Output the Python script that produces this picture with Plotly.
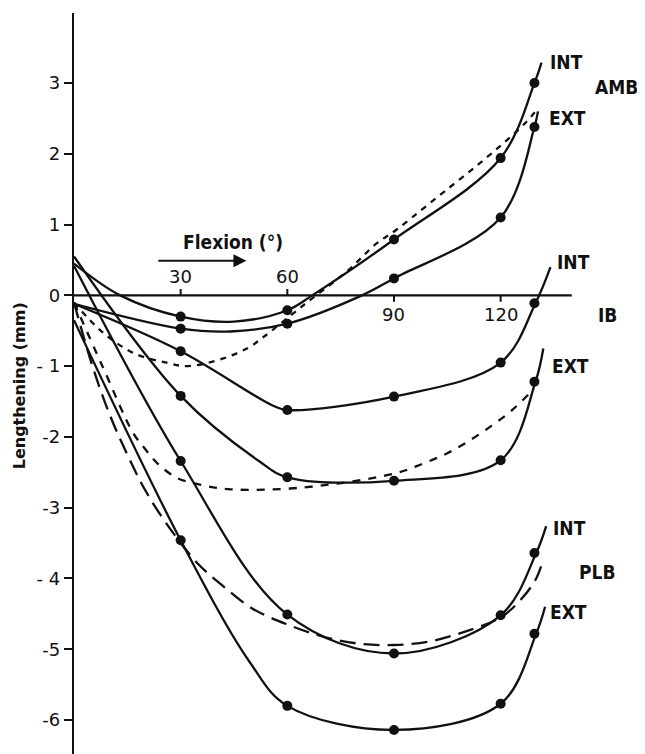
import plotly.graph_objects as go

# ---------------- data ----------------
flexion_dots = [30, 60, 90, 120, 129.5]

amb_int_dots = [-0.30, -0.21, 0.79, 1.94, 3.00]
amb_ext_dots = [-0.47, -0.40, 0.24, 1.10, 2.38]
ib_int_dots = [-0.79, -1.62, -1.43, -0.95, -0.11]
ib_ext_dots = [-1.42, -2.57, -2.62, -2.33, -1.22]
plb_int_dots = [-2.34, -4.51, -5.06, -4.52, -3.64]
plb_ext_dots = [-3.46, -5.80, -6.14, -5.77, -4.78]

# solid curves (points along the drawn curve, incl. free ends)
amb_int_x = [0, 13, 30, 45, 60, 67, 90, 120, 129.5, 131.5]
amb_int_y = [0.45, 0.0, -0.30, -0.37, -0.21, 0.0, 0.79, 1.94, 3.00, 3.29]
amb_ext_x = [0, 30, 44, 60, 81, 90, 120, 129.5, 130.5]
amb_ext_y = [-0.12, -0.47, -0.51, -0.40, 0.0, 0.24, 1.10, 2.38, 2.60]
ib_int_x = [0, 30, 56, 60, 90, 120, 129.8, 134]
ib_int_y = [-0.12, -0.79, -1.56, -1.62, -1.43, -0.95, -0.11, 0.40]
ib_ext_x = [0, 30, 52, 60, 90, 120, 129.8, 132]
ib_ext_y = [0.55, -1.42, -2.34, -2.57, -2.62, -2.33, -1.22, -0.75]
plb_int_x = [0, 30, 60, 90, 120, 130, 132.8]
plb_int_y = [0.42, -2.34, -4.51, -5.06, -4.52, -3.64, -3.26]
plb_ext_x = [0, 30, 49.4, 60, 90, 120, 130, 132.5]
plb_ext_y = [-0.35, -3.46, -5.18, -5.80, -6.14, -5.77, -4.78, -4.40]

# dashed curves
amb_dash_x = [0, 8, 17, 26, 32, 42, 49, 53, 65, 77, 85, 90.5, 100, 118, 127, 130.6]
amb_dash_y = [-0.10, -0.52, -0.82, -0.95, -1.00, -0.89, -0.74, -0.60, -0.12, 0.35, 0.73, 0.92, 1.30, 2.03, 2.44, 2.65]
ib_dash_x = [0, 8, 16.6, 20, 23.6, 29, 36, 44, 63, 90, 98, 105, 111, 117.5, 123, 128.4]
ib_dash_y = [-0.10, -1.00, -1.94, -2.17, -2.38, -2.58, -2.68, -2.74, -2.72, -2.52, -2.38, -2.23, -2.06, -1.84, -1.63, -1.37]
plb_dash_x = [0, 5, 10, 15, 20, 26.5, 35, 42, 50, 60, 70, 80, 90, 100, 110, 120, 126, 130, 132]
plb_dash_y = [-0.10, -0.97, -1.68, -2.25, -2.75, -3.26, -3.80, -4.11, -4.42, -4.65, -4.82, -4.92, -4.94, -4.89, -4.75, -4.55, -4.28, -4.00, -3.73]

y_ticks = [3, 2, 1, 0, -1, -2, -3, -4, -5, -6]
y_tick_text = ["3", "2", "1", "0", "- 1", "-2", "-3", "- 4", "-5", "-6"]
x_ticks_above = [30, 60]
x_ticks_below = [90, 120]
x_axis_end = 140

curve_labels = [
    ("INT", 133.4, 3.30), ("AMB", 146.0, 2.95), ("EXT", 132.9, 2.51),
    ("INT", 135.4, 0.47), ("IB", 146.9, -0.27), ("EXT", 134.0, -1.00),
    ("INT", 134.3, -3.28), ("PLB", 141.4, -3.91), ("EXT", 133.4, -4.48),
]

# ---------------- figure ----------------
BLACK = "#111111"
LBL_FONT = "DejaVu Sans Condensed, DejaVu Sans, sans-serif"
fig = go.Figure()

solid = [(amb_int_x, amb_int_y), (amb_ext_x, amb_ext_y), (ib_int_x, ib_int_y),
         (ib_ext_x, ib_ext_y), (plb_int_x, plb_int_y), (plb_ext_x, plb_ext_y)]
for xs, ys in solid:
    fig.add_trace(go.Scatter(x=xs, y=ys, mode="lines",
                             line=dict(color=BLACK, width=2.3, shape="spline", smoothing=1.0),
                             hoverinfo="skip", showlegend=False))

dashed = [(amb_dash_x, amb_dash_y, "6px,6px"), (ib_dash_x, ib_dash_y, "8px,8px"),
          (plb_dash_x, plb_dash_y, "16px,8px")]
for xs, ys, d in dashed:
    fig.add_trace(go.Scatter(x=xs, y=ys, mode="lines",
                             line=dict(color=BLACK, width=2.3, dash=d, shape="spline", smoothing=1.0),
                             hoverinfo="skip", showlegend=False))

for ys in [amb_int_dots, amb_ext_dots, ib_int_dots, ib_ext_dots, plb_int_dots, plb_ext_dots]:
    fig.add_trace(go.Scatter(x=flexion_dots, y=ys, mode="markers",
                             marker=dict(color=BLACK, size=10),
                             hoverinfo="skip", showlegend=False))

# x axis drawn through y = 0
fig.add_shape(type="line", x0=0, x1=x_axis_end, y0=0, y1=0,
              line=dict(color=BLACK, width=2.3))
for t in x_ticks_above:
    fig.add_shape(type="line", x0=t, x1=t, y0=0, y1=0.09, line=dict(color=BLACK, width=2))
    fig.add_annotation(x=t, y=0.09, text=str(t), showarrow=False, yanchor="bottom",
                       font=dict(family="DejaVu Sans, sans-serif", size=18, color=BLACK))
for t in x_ticks_below:
    fig.add_shape(type="line", x0=t, x1=t, y0=0, y1=-0.09, line=dict(color=BLACK, width=2))
    fig.add_annotation(x=t, y=-0.09, text=str(t), showarrow=False, yanchor="top",
                       font=dict(family="DejaVu Sans, sans-serif", size=18, color=BLACK))

# Flexion arrow + label
fig.add_annotation(x=48.5, y=0.49, ax=23.3, ay=0.49, xref="x", yref="y",
                   axref="x", ayref="y", text="", showarrow=True,
                   arrowhead=2, arrowsize=1.3, arrowwidth=2, arrowcolor=BLACK)
fig.add_annotation(x=44.6, y=0.75, text="<b>Flexion (°)</b>", showarrow=False,
                   font=dict(family=LBL_FONT, size=19, color=BLACK))

for txt, lx, ly in curve_labels:
    fig.add_annotation(x=lx, y=ly, text="<b>%s</b>" % txt, showarrow=False,
                       xanchor="left", font=dict(family=LBL_FONT, size=19, color=BLACK))

fig.add_annotation(xref="paper", x=-0.094, y=-1.28, yref="y", text="<b>Lengthening (mm)</b>",
                   textangle=-90, showarrow=False, xanchor="center", yanchor="middle",
                   font=dict(family="DejaVu Sans, sans-serif", size=16, color=BLACK))

# page body has an 8px default margin: shift the figure up/left to compensate
fig.update_layout(
    width=637, height=746,
    margin=dict(l=66, r=0, t=5, b=0),
    paper_bgcolor="white", plot_bgcolor="white",
    xaxis=dict(range=[0, 160.6], visible=False, fixedrange=True),
    yaxis=dict(range=[-6.48, 3.99], showgrid=False, zeroline=False,
               showline=True, linecolor=BLACK, linewidth=2.3,
               ticks="outside", ticklen=8, tickwidth=2, tickcolor=BLACK,
               tickvals=y_ticks, ticktext=y_tick_text,
               tickfont=dict(family="DejaVu Sans, sans-serif", size=18, color=BLACK)),
)

fig.write_html("out.html")
